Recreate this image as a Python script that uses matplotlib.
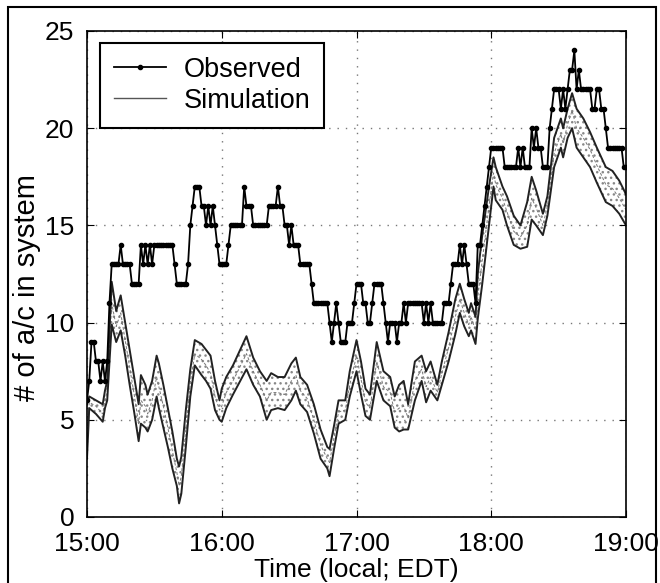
import numpy as np
import matplotlib
matplotlib.use("Agg")
import matplotlib.pyplot as plt
from matplotlib.patches import Rectangle

plt.rcParams['font.family'] = ['Liberation Sans', 'DejaVu Sans']

# observed count, one value per minute from 15:00 to 19:00
observed = [
    6, 7, 9, 9, 8, 8, 7, 8, 7, 8,
    11, 13, 13, 13, 13, 14, 13, 13, 13, 13,
    12, 12, 12, 12, 14, 13, 14, 13, 14, 13,
    14, 14, 14, 14, 14, 14, 14, 14, 14, 13,
    12, 12, 12, 12, 12, 13, 15, 16, 17, 17,
    17, 16, 16, 15, 16, 15, 16, 15, 14, 13,
    13, 13, 13, 14, 15, 15, 15, 15, 15, 15,
    17, 16, 16, 16, 15, 15, 15, 15, 15, 15,
    15, 16, 16, 16, 16, 17, 16, 16, 15, 15,
    14, 15, 14, 14, 14, 13, 13, 13, 13, 13,
    12, 11, 11, 11, 11, 11, 11, 11, 10, 9,
    10, 11, 10, 9, 9, 9, 10, 10, 10, 11,
    12, 12, 12, 11, 11, 10, 10, 11, 12, 12,
    12, 12, 11, 10, 9, 10, 10, 10, 9, 10,
    10, 11, 10, 11, 11, 11, 11, 11, 11, 11,
    10, 11, 10, 11, 10, 10, 10, 10, 10, 11,
    11, 11, 12, 13, 13, 13, 14, 13, 14, 13,
    12, 12, 12, 11, 14, 14, 15, 16, 17, 18,
    19, 19, 19, 19, 19, 19, 18, 18, 18, 18,
    18, 18, 19, 18, 19, 18, 18, 18, 20, 19,
    20, 19, 19, 18, 18, 18, 20, 21, 22, 22,
    22, 21, 22, 21, 22, 23, 23, 24, 22, 23,
    22, 22, 22, 22, 22, 21, 21, 22, 22, 21,
    21, 20, 19, 19, 19, 19, 19, 19, 19, 18,
    18,
]
obs_minutes = list(range(len(observed)))

# simulation band (upper / lower bound and middle), minutes after 15:00
sim_minutes = [0, 1, 4, 7, 8, 9, 11, 13, 15, 17, 19, 21, 23, 24, 26, 27, 29, 31, 32, 34,
               36, 38, 40, 41, 42, 44, 46, 48, 51, 53, 55, 57, 59, 60, 62, 65, 71, 74, 77, 80,
               82, 85, 88, 91, 93, 95, 98, 101, 104, 107, 108, 110, 112, 115, 117, 120, 122, 124, 126, 129,
               132, 135, 137, 139, 141, 143, 146, 149, 151, 153, 156, 158, 161, 164, 166, 168, 170, 171, 173, 174,
               176, 179, 181, 182, 185, 187, 190, 193, 196, 198, 200, 203, 205, 208, 211, 212, 214, 216, 218, 221,
               224, 227, 231, 234, 237, 240]
sim_upper = [5.8, 6.2, 6.0, 5.8, 6.5, 7.0, 12.1, 10.6, 11.4, 10.0, 8.6, 7.2, 5.8, 7.3, 6.8, 6.3, 7.0, 8.3, 7.9, 6.8,
             5.6, 4.4, 3.0, 2.6, 3.1, 5.5, 7.6, 9.1, 8.9, 8.6, 8.3, 7.0, 6.0, 6.6, 7.2, 7.8, 9.3, 8.2, 7.5, 7.0,
             7.4, 7.2, 7.2, 7.9, 8.2, 7.2, 6.8, 5.8, 4.5, 3.6, 3.5, 4.7, 6.0, 6.0, 7.5, 9.1, 8.0, 6.6, 6.3, 9.0,
             7.5, 7.2, 6.2, 6.8, 7.0, 5.8, 8.0, 8.3, 7.5, 8.0, 6.8, 8.0, 9.5, 11.2, 12.0, 11.2, 10.5, 11.0, 10.3, 12.5,
             14.5, 17.0, 18.5, 18.0, 17.0, 16.5, 15.5, 15.0, 16.2, 17.5, 16.8, 15.6, 16.5, 19.5, 20.5, 20.0, 21.0, 21.8, 21.0, 20.5,
             19.8, 19.0, 18.0, 17.8, 17.3, 16.6]
sim_lower = [3.0, 5.6, 5.3, 4.9, 5.6, 6.0, 9.9, 9.0, 9.6, 8.3, 6.8, 5.4, 3.9, 4.8, 4.6, 4.4, 5.0, 6.2, 5.6, 4.6,
             3.6, 2.5, 1.6, 0.7, 1.2, 3.6, 6.2, 7.8, 7.3, 7.0, 6.6, 5.5, 5.0, 4.9, 5.6, 6.3, 7.6, 6.8, 6.2, 5.0,
             5.5, 5.6, 5.5, 6.0, 6.5, 5.8, 5.4, 4.3, 3.0, 2.5, 2.1, 3.5, 4.8, 5.0, 6.2, 7.5, 6.3, 5.2, 5.0, 7.0,
             6.0, 5.7, 4.6, 4.4, 4.5, 4.5, 6.0, 7.0, 5.9, 6.5, 6.0, 6.8, 8.0, 9.4, 10.5, 9.8, 9.3, 9.6, 8.9, 10.2,
             12.0, 15.0, 17.0, 16.3, 15.8, 15.0, 14.0, 13.8, 13.9, 15.3, 15.0, 14.5, 15.5, 18.0, 19.0, 18.5, 19.5, 20.0, 19.0, 18.5,
             18.0, 17.2, 16.2, 16.0, 15.6, 15.0]
sim_mid = [4.5, 5.9, 5.7, 5.3, 6.0, 6.5, 11.0, 9.8, 10.5, 9.1, 7.7, 6.3, 4.8, 6.0, 5.7, 5.3, 6.0, 7.2, 6.7, 5.7,
           4.6, 3.4, 2.3, 1.6, 2.1, 4.5, 6.9, 8.4, 8.1, 7.8, 7.4, 6.2, 5.5, 5.7, 6.4, 7.0, 8.4, 7.5, 6.8, 6.0,
           6.4, 6.4, 6.3, 7.0, 7.3, 6.5, 6.1, 5.0, 3.7, 3.0, 2.8, 4.1, 5.4, 5.5, 6.8, 8.3, 7.1, 5.9, 5.6, 8.0,
           6.7, 6.4, 5.4, 5.6, 5.7, 5.1, 7.0, 7.6, 6.7, 7.2, 6.4, 7.4, 8.7, 10.3, 11.2, 10.5, 9.9, 10.3, 9.6, 11.3,
           13.2, 16.0, 17.7, 17.1, 16.4, 15.7, 14.7, 14.4, 15.0, 16.4, 15.9, 15.0, 16.0, 18.7, 19.7, 19.2, 20.2, 20.9, 20.0, 19.5,
           18.9, 18.1, 17.1, 16.9, 16.4, 15.8]

tick_minutes = [0, 60, 120, 180, 240]
tick_labels = ['15:00', '16:00', '17:00', '18:00', '19:00']

fig = plt.figure(figsize=(6.6, 5.83), dpi=100)
ax = fig.add_axes([87 / 660, 1 - 517 / 583, (626 - 87) / 660, (517 - 31) / 583])

# stippled band between the simulation bounds
ax.fill_between(sim_minutes, sim_lower, sim_upper, facecolor='none', edgecolor='#888888',
                hatch='...', linewidth=0)
ax.plot(sim_minutes, sim_mid, color='#777777', lw=0.7, ls=(0, (3, 2)))
ax.plot(sim_minutes, sim_upper, color='#222222', lw=1.4)
ax.plot(sim_minutes, sim_lower, color='#222222', lw=1.4)

ax.plot(obs_minutes, observed, color='black', lw=1.3, marker='o', ms=3.0, label='Observed')
ax.plot([], [], color='#555555', lw=1.0, label='Simulation')

ax.set_xlim(0, 240)
ax.set_ylim(0, 25)
ax.set_xticks(tick_minutes)
ax.set_xticklabels(tick_labels)
ax.set_yticks([0, 5, 10, 15, 20, 25])
ax.tick_params(direction='in', length=5, labelsize=19, top=True, right=True)
ax.tick_params(axis='x', pad=11)
ax.tick_params(axis='y', pad=9)
ax.grid(True, ls=(0, (1, 5)), color='#777777', lw=1.0)
for s in ax.spines.values():
    s.set_linewidth(1.2)

ax.set_xlabel('Time (local; EDT)', fontsize=19, labelpad=1)
ax.set_ylabel('# of a/c in system', fontsize=21)
ax.yaxis.set_label_coords(-0.085, 0.473)

leg = ax.legend(loc='upper left', bbox_to_anchor=(13 / 539, 1 - 12 / 486), fontsize=19.5,
                fancybox=False, framealpha=1, edgecolor='black', borderpad=0.5,
                borderaxespad=0, handlelength=1.95, labelspacing=0.2, handletextpad=0.65)
leg.get_frame().set_linewidth(1.5)

# outer frame round the whole picture
fig.patches.append(Rectangle((8 / 660, -0.05), 648 / 660, 1.05 - 7 / 583, transform=fig.transFigure,
                             fill=False, edgecolor='black', lw=1.5))

fig.savefig('out.png', dpi=100)
